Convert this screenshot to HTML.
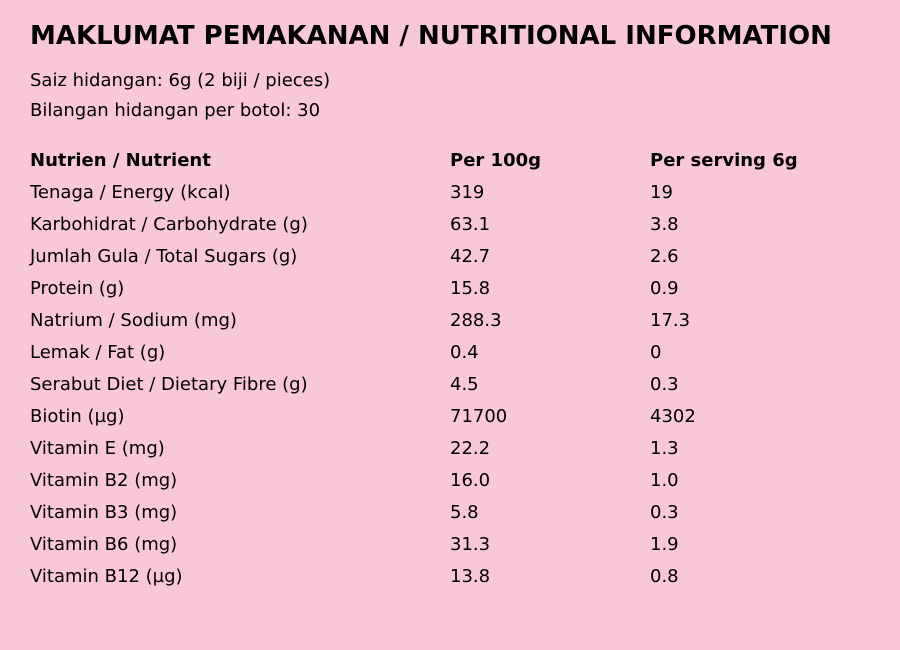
<!DOCTYPE html>
<html><head><meta charset="utf-8"><style>
body{margin:0;width:900px;height:650px;background:#f8c8d8;font-family:"DejaVu Sans","Liberation Sans",sans-serif;color:#000;position:relative;overflow:hidden}
.t{position:absolute;white-space:nowrap;font-size:18px;line-height:20px}
h1{position:absolute;left:30px;top:20px;margin:0;font-size:26px;line-height:32px;font-weight:bold;white-space:nowrap}
.b{font-weight:bold}
</style></head><body>
<h1>MAKLUMAT PEMAKANAN / NUTRITIONAL INFORMATION</h1>
<div class="t" style="left:30px;top:71px">Saiz hidangan: 6g (2 biji / pieces)</div>
<div class="t" style="left:30px;top:101px">Bilangan hidangan per botol: 30</div>
<div id="rows"></div>
<script>
var r=[["Nutrien / Nutrient","Per 100g","Per serving 6g"],["Tenaga / Energy (kcal)","319","19"],["Karbohidrat / Carbohydrate (g)","63.1","3.8"],["Jumlah Gula / Total Sugars (g)","42.7","2.6"],["Protein (g)","15.8","0.9"],["Natrium / Sodium (mg)","288.3","17.3"],["Lemak / Fat (g)","0.4","0"],["Serabut Diet / Dietary Fibre (g)","4.5","0.3"],["Biotin (µg)","71700","4302"],["Vitamin E (mg)","22.2","1.3"],["Vitamin B2 (mg)","16.0","1.0"],["Vitamin B3 (mg)","5.8","0.3"],["Vitamin B6 (mg)","31.3","1.9"],["Vitamin B12 (µg)","13.8","0.8"]];
var h="";r.forEach(function(x,i){var y=151+i*32;var c=i==0?"t b":"t";
h+='<div class="'+c+'" style="left:30px;top:'+y+'px">'+x[0]+'</div><div class="'+c+'" style="left:450px;top:'+y+'px">'+x[1]+'</div><div class="'+c+'" style="left:650px;top:'+y+'px">'+x[2]+'</div>';});
document.getElementById("rows").innerHTML=h;
</script>
</body></html>
